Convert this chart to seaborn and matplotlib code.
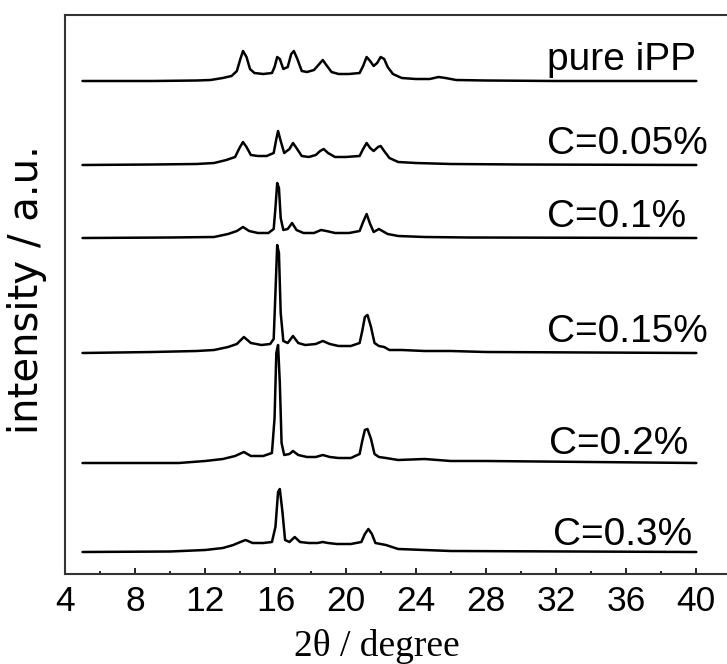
import numpy as np
import pandas as pd
import matplotlib
matplotlib.use("Agg")
import matplotlib.pyplot as plt
import seaborn as sns

# XRD patterns (2theta in degree, intensity above each baseline, a.u.)
tt_pure = [5.0, 9.0, 11.5, 12.3, 13.0, 13.5, 13.8, 14.0, 14.15, 14.35, 14.55, 14.8, 15.3, 15.8, 15.95,
           16.1, 16.25, 16.45, 16.7, 16.9, 17.05, 17.25, 17.5, 17.8, 18.2, 18.5, 18.7, 18.9, 19.2, 19.6,
           20.2, 20.8, 21.0, 21.2, 21.4, 21.6, 21.8, 22.0, 22.2, 22.4, 22.7, 23.2, 24.0, 24.8, 25.3,
           25.7, 26.3, 28.0, 32.0, 40.0]
ii_pure = [0, 0, 0.5, 1, 3, 5, 10, 22, 30, 24, 12, 8, 7, 8, 14,
           24, 22, 12, 14, 27, 30, 22, 10, 9, 11, 17, 21, 16, 9, 7,
           7, 8, 15, 24, 20, 15, 18, 24, 22, 14, 7, 3, 2, 2, 4,
           3, 1, 0.5, 0, 0]

tt_005 = [5, 9, 11.5, 12.5, 13.2, 13.7, 13.95, 14.15, 14.35, 14.6, 15.0, 15.5, 15.9, 16.05, 16.15,
          16.3, 16.5, 16.8, 17.0, 17.2, 17.5, 17.9, 18.3, 18.55, 18.75, 19.0, 19.4, 20.0, 20.8, 21.0,
          21.2, 21.4, 21.6, 21.85, 22.0, 22.2, 22.5, 23.0, 24.0, 26.0, 30.0, 40.0]
ii_005 = [0, 0.5, 1, 2, 5, 8, 17, 23, 18, 10, 9, 9, 12, 26, 34,
          24, 12, 16, 22, 17, 9, 8, 10, 14, 16, 12, 8, 8, 9, 16,
          22, 17, 14, 18, 19, 14, 7, 3, 2, 1, 0.5, 0]

tt_01 = [5, 10, 12.5, 13.3, 13.8, 14.15, 14.5, 15.0, 15.6, 15.9, 16.0, 16.1, 16.2, 16.3, 16.45,
         16.7, 16.95, 17.2, 17.6, 18.2, 18.6, 18.9, 19.4, 20.2, 20.8, 21.0, 21.2, 21.4, 21.6, 21.9,
         22.1, 22.4, 23.0, 24.5, 27.0, 40.0]
ii_01 = [0, 0.5, 1, 4, 7, 11, 7, 5, 5, 9, 30, 55, 50, 20, 8,
         9, 15, 8, 5, 5, 8, 7, 5, 5, 7, 16, 24, 14, 6, 9,
         7, 4, 2, 1, 0.5, 0]

tt_015 = [5, 9, 11.5, 12.5, 13.3, 13.8, 14.2, 14.6, 15.2, 15.7, 15.9, 16.0, 16.1, 16.2, 16.3,
          16.45, 16.7, 17.0, 17.3, 17.7, 18.3, 18.7, 19.1, 19.6, 20.3, 20.8, 20.95, 21.1, 21.25, 21.45,
          21.65, 21.9, 22.2, 22.5, 23.2, 24.5, 26.0, 28.0, 40.0]
ii_015 = [0, 1, 2, 3, 6, 9, 16, 10, 8, 9, 14, 60, 108, 100, 40,
          12, 10, 17, 10, 8, 9, 12, 9, 7, 7, 10, 22, 36, 38, 26,
          10, 7, 6, 3, 3, 2, 2, 1, 0]

tt_02 = [5, 10.5, 12.0, 13.0, 13.7, 14.2, 14.6, 15.3, 15.8, 15.95, 16.05, 16.15, 16.25, 16.35, 16.5,
         16.8, 17.0, 17.3, 17.8, 18.3, 18.7, 19.1, 19.6, 20.3, 20.8, 20.95, 21.1, 21.25, 21.45, 21.65,
         21.9, 22.3, 23.0, 24.5, 26.0, 28.0, 40.0]
ii_02 = [0, 0, 2, 4, 7, 11, 7, 7, 10, 45, 110, 118, 80, 20, 8,
         9, 12, 8, 6, 6, 8, 6, 5, 5, 9, 22, 33, 34, 24, 9,
         6, 5, 3, 4, 2, 2, 0]

tt_03 = [5, 10.0, 12.0, 13.0, 13.6, 14.0, 14.3, 14.7, 15.3, 15.8, 16.0, 16.15, 16.25, 16.4, 16.55,
         16.8, 17.1, 17.4, 17.9, 18.4, 18.7, 19.0, 19.5, 20.3, 20.9, 21.1, 21.3, 21.5, 21.7, 22.0,
         22.3, 23.0, 24.5, 26.0, 40.0]
ii_03 = [0, 0.5, 2, 4, 7, 10, 12, 9, 9, 10, 25, 60, 63, 40, 12,
         10, 15, 10, 9, 9, 10, 9, 8, 8, 10, 18, 23, 18, 9, 8,
         7, 3, 2, 1, 0]

samples = ["pure iPP", "C=0.05%", "C=0.1%", "C=0.15%", "C=0.2%", "C=0.3%"]
patterns = [(tt_pure, ii_pure), (tt_005, ii_005), (tt_01, ii_01),
            (tt_015, ii_015), (tt_02, ii_02), (tt_03, ii_03)]

# stacking offsets and label placement
offsets = [493, 409, 336, 221, 111, 22]
label_x = [31.5, 31.5, 31.5, 31.5, 31.6, 31.85]
label_y = [504, 420, 347, 232, 120, 29]

sns.set_theme(style="ticks")
plt.rcParams["font.family"] = ["Liberation Sans", "DejaVu Sans"]
plt.rcParams["text.color"] = "black"
plt.rcParams["axes.labelcolor"] = "black"
plt.rcParams["xtick.color"] = "black"

fig = plt.figure(figsize=(7.27, 6.64), dpi=100)
ax = fig.add_axes([65 / 727, 90 / 664, 1 - 65 / 727, 559 / 664])

for (tt, ii), off in zip(patterns, offsets):
    df = pd.DataFrame({"tt": tt, "ii": np.asarray(ii) + off})
    sns.lineplot(data=df, x="tt", y="ii", color="black", lw=1.8,
                 estimator=None, sort=False, ax=ax)

for name, lx, ly in zip(samples, label_x, label_y):
    ax.text(lx, ly, name, fontsize=28, ha="left", va="baseline", color="black")

ax.set_xlim(4, 41.75)
ax.set_ylim(0, 559)
ax.set_xticks(np.arange(4, 41, 4))
ax.set_xticks(np.arange(6, 40, 4), minor=True)
ax.set_yticks([])
ax.tick_params(axis="x", which="major", direction="in", length=4, width=1.2,
               labelsize=25.5, pad=8, color="black", labelcolor="black")
ax.tick_params(axis="x", which="minor", direction="in", length=2.5, width=1.2, color="black")
ax.spines["right"].set_visible(False)
for s in ["left", "top", "bottom"]:
    ax.spines[s].set_linewidth(1.5)
    ax.spines[s].set_color("#333333")

ax.set_xlabel("2θ / degree", fontsize=27, family=["Liberation Serif", "DejaVu Serif"])
ax.xaxis.set_label_coords(0.471, -0.098)
ax.set_ylabel("intensity / a.u.", fontsize=29, family=["DejaVu Sans"])
ax.yaxis.set_label_coords(-0.027, 0.508)

fig.savefig("out.png", dpi=100)
